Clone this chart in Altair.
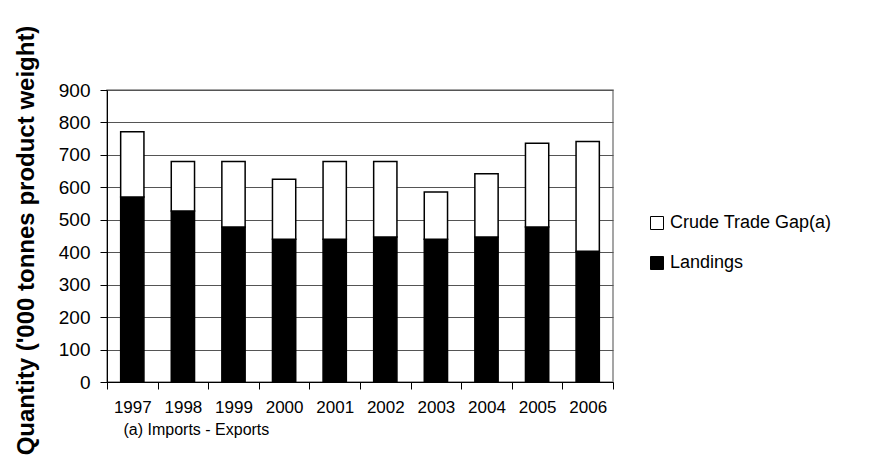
import altair as alt
import pandas as pd

years = ["1997", "1998", "1999", "2000", "2001", "2002", "2003", "2004", "2005", "2006"]
landings = [570, 527, 478, 440, 440, 447, 440, 447, 478, 403]
trade_gap = [201, 153, 202, 185, 240, 233, 146, 195, 258, 338]

rows = []
for y, l, g in zip(years, landings, trade_gap):
    rows.append({"year": y, "series": "Landings", "value": l, "order": 0})
    rows.append({"year": y, "series": "Crude Trade Gap(a)", "value": g, "order": 1})
df = pd.DataFrame(rows)

FONT = "Liberation Sans"

chart = alt.Chart(df).mark_bar(stroke="black", strokeWidth=1.5,
                               width=alt.RelativeBandSize(0.46)).encode(
    x=alt.X("year:N", sort=years,
            scale=alt.Scale(paddingInner=0, paddingOuter=0),
            axis=alt.Axis(title="(a) Imports - Exports", labelAngle=0, labelFont=FONT,
                          labelFontSize=17, labelColor="black", tickBand="extent",
                          tickSize=7, tickColor="black", domainColor="black",
                          labelPadding=10, titleFont=FONT, titleFontSize=16,
                          titleFontWeight="normal", titleAlign="left", titleAnchor="start",
                          titleX=16, titleY=47, titleColor="black", titleBaseline="middle")),
    y=alt.Y("value:Q", stack="zero",
            scale=alt.Scale(domain=[0, 900]),
            axis=alt.Axis(title="Quantity ('000 tonnes product weight)", values=list(range(0, 901, 100)),
                          labelFont=FONT, labelFontSize=19, labelColor="black",
                          tickSize=7, tickColor="black", domainColor="black",
                          gridColor="#555555", gridWidth=1, labelPadding=10,
                          titleFont=FONT, titleFontSize=24, titleFontWeight="bold",
                          titleColor="black", titleX=-74, titleY=150,
                          titleBaseline="alphabetic")),
    fill=alt.Fill("series:N",
                  scale=alt.Scale(domain=["Crude Trade Gap(a)", "Landings"], range=["white", "black"]),
                  legend=alt.Legend(title=None, orient="none", legendX=541, legendY=124,
                                    symbolType="square", symbolSize=169, symbolStrokeColor="black",
                                    symbolStrokeWidth=1, labelFont=FONT, labelFontSize=18,
                                    labelColor="black", rowPadding=22, labelOffset=4,
                                    labelLimit=400)),
    order=alt.Order("order:Q"),
).properties(
    width=506, height=292,
    autosize=alt.AutoSizeParams(type="none"),
    padding={"left": 99, "top": 82, "right": 249, "bottom": 83},
).configure_view(stroke="#888888", strokeWidth=1.5)

chart.save("out.html", embed_options={"renderer": "svg", "actions": False})
